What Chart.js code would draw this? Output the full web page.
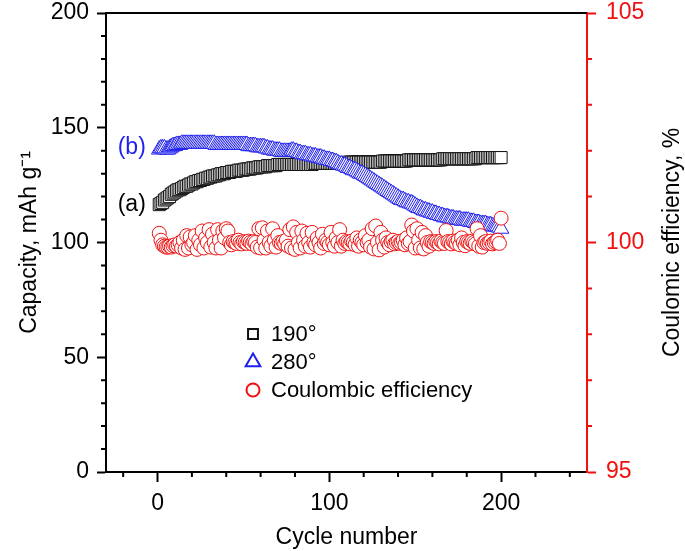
<!DOCTYPE html>
<html>
<head>
<meta charset="utf-8">
<script src="https://cdn.jsdelivr.net/npm/chart.js@4.4.1/dist/chart.umd.min.js"></script>
<style>
  html, body { margin: 0; padding: 0; background: #fff; }
  #wrap { width: 685px; height: 551px; position: relative; }
</style>
</head>
<body>
<div id="wrap"><canvas id="cap"></canvas></div>
<script>
// cycle index 1..200
const cycles = Array.from({length: 200}, (_, i) => i + 1);

// (a) 190° capacity, mAh/g
const cap190 = [
  116.5, 117, 117.5, 118.5, 119, 119.5, 120, 121, 121.5, 122,
  122.5, 123, 123, 123.5, 124, 124.5, 124.5, 125, 125.5, 125.5,
  126, 126.5, 126.5, 127, 127, 127.5, 127.5, 128, 128, 128.5,
  128.5, 129, 129, 129, 129.5, 129.5, 130, 130, 130, 130.5,
  130.5, 130.5, 131, 131, 131, 131, 131.5, 131.5, 131.5, 131.5,
  132, 132, 132, 132, 132.5, 132.5, 132.5, 132.5, 133, 133,
  133, 133, 133, 133.5, 133.5, 133.5, 133.5, 133.5, 133.5, 134,
  134, 134, 134, 134, 134, 134, 134, 134, 134, 134,
  134, 134, 134, 134, 134, 134, 134, 134, 134, 134,
  134.5, 134.5, 134.5, 134.5, 134.5, 134.5, 134.5, 134.5, 134.5, 134.5,
  134.5, 134.5, 134.5, 134.5, 134.5, 134.5, 134.5, 134.5, 134.5, 134.5,
  135, 135, 135, 135, 135, 135, 135, 135, 135, 135,
  135, 135, 135, 135, 135, 135, 135, 135, 135, 135,
  135.5, 135.5, 135.5, 135.5, 135.5, 135.5, 135.5, 135.5, 135.5, 135.5,
  135.5, 135.5, 135.5, 135.5, 135.5, 136, 136, 136, 136, 136,
  136, 136, 136, 136, 136, 136, 136, 136, 136, 136,
  136, 136, 136, 136, 136, 136.5, 136.5, 136.5, 136.5, 136.5,
  136.5, 136.5, 136.5, 136.5, 136.5, 136.5, 136.5, 136.5, 136.5, 136.5,
  136.5, 136.5, 136.5, 136.5, 136.5, 137, 137, 137, 137, 137,
  137, 137, 137, 137, 137, 137, 137, 137, 137, 137
];

// (b) 280° capacity, mAh/g
const cap280 = [
  140.5, 141, 141, 141, 140.5, 140.5, 141, 141.5, 142, 142,
  142.5, 142.5, 142.5, 143, 143, 143, 143, 143, 143, 143,
  143, 143, 143, 143, 143, 143, 143, 143, 143, 143,
  143, 143, 143, 142.5, 142.5, 142.5, 142.5, 142.5, 142.5, 142.5,
  142.5, 142.5, 142.5, 142.5, 142.5, 142.5, 142.5, 142.5, 142.5, 142.5,
  142.5, 142.5, 142, 142, 142, 142, 142, 141.5, 141.5, 141.5,
  141.5, 141.5, 141, 141, 140.5, 140.5, 140.5, 140, 140, 140,
  140, 139.5, 139.5, 139.5, 139.5, 139.5, 139.5, 140, 140, 139.5,
  139.5, 139, 139, 138.5, 138.5, 138.5, 138, 138, 138, 137.5,
  137.5, 137.5, 137, 137, 137, 136.5, 136.5, 136, 136, 136,
  135.5, 135.5, 135, 135, 134.5, 134, 134, 133.5, 133.5, 133,
  132.5, 132.5, 132, 131.5, 131.5, 131, 130.5, 130, 130, 129.5,
  129, 128.5, 128, 127.5, 127, 126.5, 126, 125.5, 125, 124.5,
  124, 123.5, 123, 122.5, 122, 121.5, 121, 120.5, 120, 119.5,
  119, 118.5, 118.5, 118, 117.5, 117.5, 117, 117, 116.5, 116,
  115.5, 115, 115, 114.5, 114, 114, 113.5, 113.5, 113, 113,
  112.5, 112.5, 112, 112, 111.5, 111.5, 111, 111, 111, 110.5,
  110.5, 110.5, 110, 110, 110, 110, 109.5, 109.5, 109.5, 109.5,
  109.5, 109, 109, 109, 108.5, 108.5, 108.5, 108, 108, 108,
  108, 107.5, 107.5, 107.5, 107, 107, 107, 107, 106.5, 106
];

// coulombic efficiency, %
const efficiency = [
  100.2, 100.05, 99.95, 99.92, 99.9, 99.9, 99.92, 99.9, 99.93, 99.95,
  99.92, 99.95, 100.0, 99.88, 100.05, 99.85, 100.15, 99.88, 100.12, 99.95,
  100.0, 100.15, 99.85, 100.05, 99.95, 100.25, 99.88, 100.1, 100.0, 100.28,
  99.9, 100.18, 100.0, 99.88, 100.28, 100.05, 99.88, 100.25, 100.1, 100.3,
  100.25, 100.0, 99.95, 100.02, 100.0, 99.98, 100.05, 100.0, 99.97, 100.02,
  100.0, 99.98, 100.03, 100.0, 99.97, 100.02, 100.0, 99.9, 100.3, 99.88,
  100.32, 100.05, 99.88, 100.25, 100.0, 99.92, 100.3, 100.05, 99.9, 100.15,
  100.0, 99.98, 100.02, 99.97, 100.05, 99.92, 100.28, 99.88, 100.34, 99.85,
  100.22, 100.0, 99.88, 100.25, 100.05, 99.92, 100.2, 100.0, 99.9, 100.22,
  100.0, 99.95, 100.1, 100.0, 99.88, 100.18, 99.98, 100.05, 100.0, 99.95,
  100.22, 100.0, 99.92, 100.1, 100.0, 100.28, 99.92, 100.05, 99.98, 100.02,
  100.0, 99.97, 100.03, 100.0, 99.95, 100.1, 99.92, 100.05, 100.0, 99.95,
  100.15, 100.0, 100.05, 99.9, 100.3, 99.86, 100.36, 100.0, 99.84, 100.22,
  100.05, 99.9, 100.1, 100.0, 99.95, 100.02, 100.05, 99.97, 100.0, 100.02,
  99.98, 100.0, 100.05, 99.95, 100.1, 99.98, 100.02, 100.38, 100.25, 99.88,
  100.3, 100.05, 99.88, 100.22, 99.86, 100.15, 100.0, 99.92, 100.02, 100.0,
  99.98, 100.02, 100.0, 99.97, 100.03, 100.0, 99.98, 100.26, 100.02, 100.0,
  99.97, 100.03, 100.0, 99.98, 100.05, 99.95, 100.1, 100.0, 99.93, 100.02,
  100.0, 99.98, 100.03, 100.0, 99.97, 100.3, 99.92, 100.15, 99.9, 100.0,
  100.02, 99.98, 100.0, 100.03, 99.97, 100.0, 100.02, 100.05, 99.98, 100.53
];

// axis ticks
const xMajor = [0, 100, 200];
const xMinor = [-20, 20, 40, 60, 80, 120, 140, 160, 180, 220, 240];
const yMajor = [0, 50, 100, 150, 200];
const yMinor = [10, 20, 30, 40, 60, 70, 80, 90, 110, 120, 130, 140, 160, 170, 180, 190];
const y2Major = [95, 100, 105];
const y2Minor = [96, 97, 98, 99, 101, 102, 103, 104];

const BLUE = "#1f1fef";
const RED = "#f01010";
const FONT = "'Liberation Sans', Arial, Helvetica, sans-serif";

Chart.defaults.font.family = FONT;
Chart.defaults.color = "#000";

const pts = arr => arr.map((v, i) => ({x: cycles[i], y: v}));

function fixTicks(list) {
  return scale => { scale.ticks = list.map(v => ({value: v})); };
}

function minorTicks(ctx, scale, list, side, color, area) {
  ctx.strokeStyle = color;
  ctx.lineWidth = 2;
  ctx.beginPath();
  list.forEach(v => {
    const p = scale.getPixelForValue(v);
    if (side === "bottom") { ctx.moveTo(p, area.bottom); ctx.lineTo(p, area.bottom + 5); }
    if (side === "left") { ctx.moveTo(area.left, p); ctx.lineTo(area.left - 5, p); }
    if (side === "right") { ctx.moveTo(area.right, p); ctx.lineTo(area.right + 5, p); }
  });
  ctx.stroke();
}

const extras = {
  id: "extras",
  afterDraw(chart) {
    const {ctx, chartArea: a, scales} = chart;
    ctx.save();
    // top frame line
    ctx.strokeStyle = "#000";
    ctx.lineWidth = 2;
    ctx.beginPath();
    ctx.moveTo(a.left, a.top);
    ctx.lineTo(a.right, a.top);
    ctx.stroke();

    minorTicks(ctx, scales.x, xMinor, "bottom", "#000", a);
    minorTicks(ctx, scales.y, yMinor, "left", "#000", a);
    minorTicks(ctx, scales.y2, y2Minor, "right", RED, a);

    // series labels
    ctx.font = "23px " + FONT;
    ctx.textAlign = "center";
    ctx.textBaseline = "middle";
    ctx.fillStyle = "#000";
    ctx.fillText("(a)", scales.x.getPixelForValue(-15), scales.y.getPixelForValue(116.5));
    ctx.fillStyle = BLUE;
    ctx.fillText("(b)", scales.x.getPixelForValue(-15), scales.y.getPixelForValue(141.5));

    // legend inside the plot
    ctx.font = "22px " + FONT;
    ctx.textAlign = "left";
    const rows = [334, 362, 390];
    const sizes = [7, 8.5, 6.5];
    chart.data.datasets.forEach((ds, i) => {
      const y = rows[i];
      ctx.strokeStyle = ds.borderColor;
      ctx.fillStyle = "#fff";
      Chart.helpers.drawPoint(ctx, {pointStyle: ds.pointStyle, radius: sizes[i], rotation: 0, borderWidth: 1.2}, 253, y);
      ctx.fillStyle = "#000";
      ctx.fillText(ds.label, 271, y + 1);
    });

    // right axis title (reads upward)
    ctx.font = "23px " + FONT;
    ctx.fillStyle = "#000";
    ctx.textAlign = "center";
    ctx.translate(673, (a.top + a.bottom) / 2);
    ctx.rotate(-Math.PI / 2);
    ctx.fillText("Coulomic efficiency, %", 0, 0);
    ctx.restore();
  }
};

new Chart(document.getElementById("cap"), {
  type: "scatter",
  data: {
    datasets: [
      {
        label: "190°",
        data: pts(cap190),
        yAxisID: "y",
        pointStyle: "rect",
        pointRadius: 8.5,
        borderColor: "#111",
        backgroundColor: "#fff",
        borderWidth: 1,
        order: 3
      },
      {
        label: "280°",
        data: pts(cap280),
        yAxisID: "y",
        pointStyle: "triangle",
        pointRadius: 9,
        borderColor: BLUE,
        backgroundColor: "#fff",
        borderWidth: 1,
        order: 2
      },
      {
        label: "Coulombic efficiency",
        data: pts(efficiency),
        yAxisID: "y2",
        pointStyle: "circle",
        pointRadius: 7,
        borderColor: RED,
        backgroundColor: "#fff",
        borderWidth: 1,
        order: 1
      }
    ]
  },
  options: {
    responsive: true,
    maintainAspectRatio: false,
    animation: false,
    layout: { padding: { top: 13, left: 0, right: 0, bottom: 0 } },
    plugins: { legend: { display: false }, tooltip: { enabled: false } },
    elements: { point: { hoverRadius: 8 } },
    scales: {
      x: {
        type: "linear",
        min: -30,
        max: 250,
        afterBuildTicks: fixTicks(xMajor),
        afterFit: s => { s.height = 79; s.paddingLeft = 0; s.paddingRight = 0; },
        border: { display: true, color: "#000", width: 2 },
        grid: { drawOnChartArea: false, tickLength: 10, tickWidth: 2, tickColor: "#000" },
        ticks: { font: { size: 23 }, color: "#000", padding: 8, maxRotation: 0 },
        title: { display: true, text: "Cycle number", font: { size: 23 }, color: "#000", padding: { top: 0, bottom: 0 } }
      },
      y: {
        position: "left",
        min: 0,
        max: 200,
        afterBuildTicks: fixTicks(yMajor),
        afterFit: s => { s.width = 106; s.paddingTop = 0; s.paddingBottom = 0; },
        border: { display: true, color: "#000", width: 2 },
        grid: { drawOnChartArea: false, tickLength: 9, tickWidth: 2, tickColor: "#000" },
        ticks: { font: { size: 23 }, color: "#000", padding: 8 },
        title: { display: true, text: "Capacity, mAh g\u207B\u00B9", font: { size: 23 }, color: "#000", padding: { top: 16, bottom: 0 } }
      },
      y2: {
        position: "right",
        min: 95,
        max: 105,
        afterBuildTicks: fixTicks(y2Major),
        afterFit: s => { s.width = 98; s.paddingTop = 0; s.paddingBottom = 0; },
        border: { display: true, color: RED, width: 2 },
        grid: { drawOnChartArea: false, tickLength: 9, tickWidth: 2, tickColor: RED },
        ticks: { font: { size: 23 }, color: RED, padding: 10 }
      }
    }
  },
  plugins: [extras]
});
</script>
</body>
</html>
